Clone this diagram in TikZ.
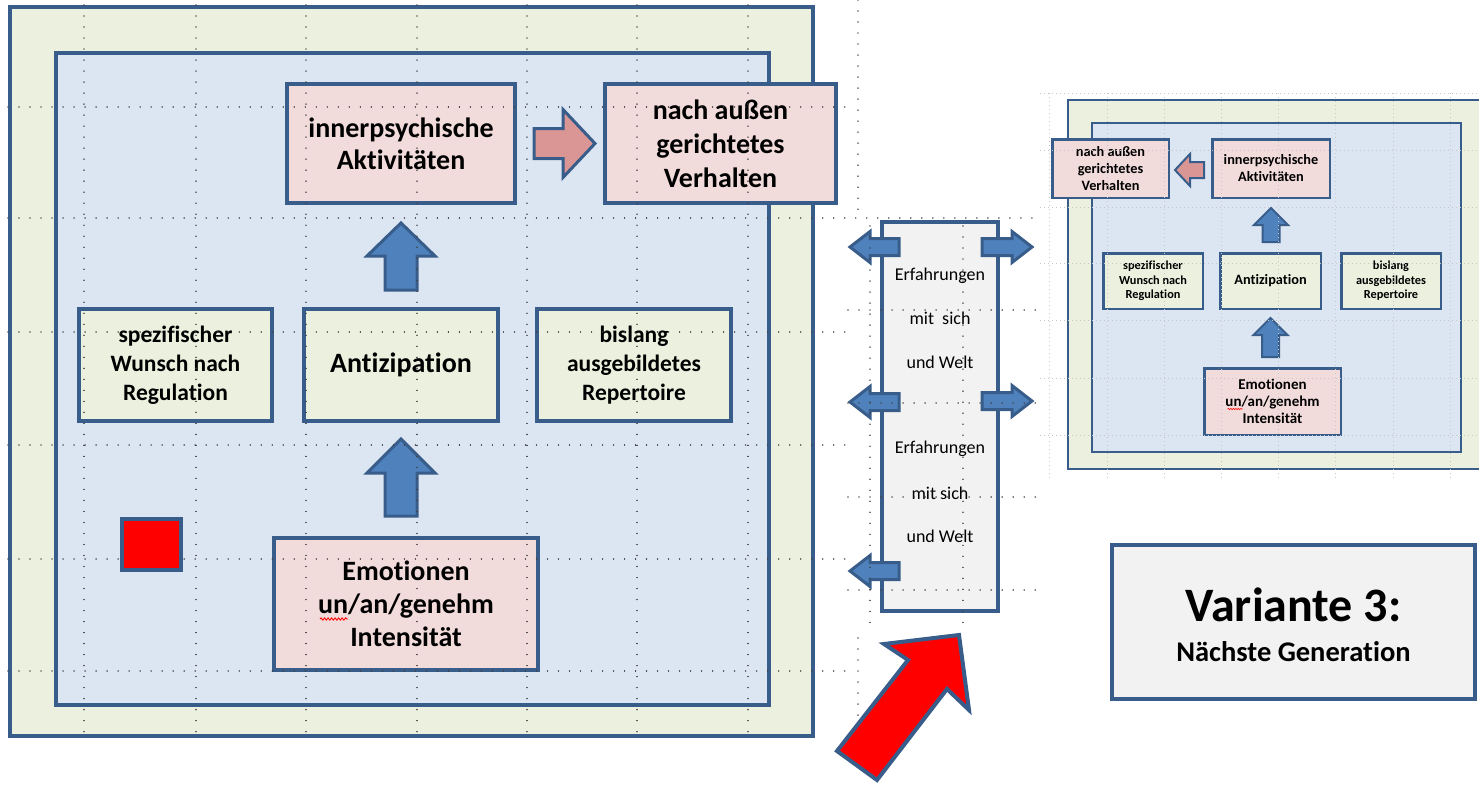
\documentclass[tikz,border=0pt]{standalone}
\usepackage{fontspec}
\setmainfont{Carlito}[Ligatures=NoCommon]
\usetikzlibrary{calc,decorations.pathmorphing}
\definecolor{edge}{HTML}{385D8A}
\definecolor{arrowblue}{HTML}{4F81BD}
\definecolor{greenfill}{HTML}{EBF1DE}
\definecolor{bluefill}{HTML}{DCE6F2}
\definecolor{pinkfill}{HTML}{F2DCDB}
\definecolor{greyfill}{HTML}{F2F2F2}
\definecolor{pinkarrow}{HTML}{D99694}
\newcommand\fsz[2]{\fontsize{#1}{#2}\selectfont}

% block arrows: length, head length, head half width, shaft half width
\tikzset{
  pics/uparr/.style n args={4}{code={%
    \path[pic actions] (0,0) -- (#3,#2) -- (#4,#2) -- (#4,#1) -- (-#4,#1) -- (-#4,#2) -- (-#3,#2) -- cycle;}},
  pics/larr/.style n args={4}{code={%
    \path[pic actions] (0,0) -- (#2,-#3) -- (#2,-#4) -- (#1,-#4) -- (#1,#4) -- (#2,#4) -- (#2,#3) -- cycle;}},
  pics/rarr/.style n args={4}{code={%
    \path[pic actions] (0,0) -- (-#2,-#3) -- (-#2,-#4) -- (-#1,-#4) -- (-#1,#4) -- (-#2,#4) -- (-#2,#3) -- cycle;}}
}

\begin{document}
\begin{tikzpicture}[x=1pt,y=-1pt,
  frame/.style={draw=edge,line width=4},
  thinframe/.style={draw=edge,line width=2.5},
  box/.style={frame,rectangle,inner sep=0pt,align=center,font=\bfseries\fsz{28}{33}},
  sbox/.style={thinframe,rectangle,inner sep=0pt,align=center,font=\bfseries\fsz{14.3}{17}},
  pinkbox/.style={fill=pinkfill},
  greenbox/.style={fill=greenfill},
  blockarrow/.style={fill=arrowblue,draw=edge,line width=3,line join=miter},
  sblockarrow/.style={fill=arrowblue,draw=edge,line width=2,line join=miter},
  pinkarrowstyle/.style={fill=pinkarrow,draw=edge,line width=3,line join=miter},
  sidetext/.style={font=\fsz{18}{21},inner sep=0pt},
  dotgrid/.style={draw=black!75,line width=1.4,line cap=round,dash pattern=on 0.01pt off 11pt},
  faintgrid/.style={draw=black!22,line width=1,dash pattern=on 1pt off 3pt},
  squiggle/.style={draw=red,line width=0.9,decorate,decoration={snake,amplitude=1.1pt,segment length=3.5pt}}
]
\clip (0,0) rectangle (1479,784);

% ---------- left model ----------
\draw[frame,fill=greenfill] (10,7) rectangle (813,736);
\draw[frame,fill=bluefill] (56,53) rectangle (769,705);

\node[box,pinkbox,minimum width=228,minimum height=119,font=\bfseries\fsz{28}{32}] (inner) at (401,143.5) {innerpsychische\\Aktivitäten};
\node[box,pinkbox,minimum width=231,minimum height=119,font=\bfseries\fsz{28}{34}] (aussen) at (720.5,143.5) {nach außen\\gerichtetes\\Verhalten};
\node[box,greenbox,minimum width=193,minimum height=112,font=\bfseries\fsz{23.5}{29}] (spez) at (175.5,365) {spezifischer\\Wunsch nach\\Regulation};
\node[box,greenbox,minimum width=194,minimum height=112] (anti) at (401,365) {Antizipation};
\node[box,greenbox,minimum width=194,minimum height=112,font=\bfseries\fsz{23.5}{29}] (bis) at (634,365) {bislang\\ausgebildetes\\Repertoire};
\node[box,pinkbox,minimum width=264,minimum height=132] (emo) at (406,604) {Emotionen\\un/an/genehm\\Intensität};
\draw[squiggle] ($(emo.center)+(-86,15)$) -- ($(emo.center)+(-58,15)$);

\pic[pinkarrowstyle] at ($(aussen.west)+(-8,0)$) {rarr={61}{32}{34}{15}};
\pic[blockarrow] at ($(inner.south)+(0,18)$) {uparr={67}{33}{34}{16}};
\pic[blockarrow] at ($(anti.south)+(0,16)$) {uparr={77}{34}{34}{16}};

% ---------- experience column ----------
\node[frame,fill=greyfill,minimum width=116,minimum height=389,inner sep=0pt] (exp) at (940,416.5) {};
\node[sidetext] (e1) at (940,276) {Erfahrungen};
\node[sidetext] (e2) at (940,318) {mit~~sich};
\node[sidetext] (e3) at (940,362) {und Welt};
\node[sidetext] (e4) at (940,449) {Erfahrungen};
\node[sidetext] (e5) at (940,493) {mit sich};
\node[sidetext] (e6) at (940,536) {und Welt};

\pic[blockarrow] at ($(exp.west)+(-30,-169.5)$) {larr={49}{20}{15.5}{8.5}};
\pic[blockarrow] at ($(exp.west)+(-30,-14.5)$) {larr={49}{20}{15.5}{8.5}};
\pic[blockarrow] at ($(exp.west)+(-30,154.5)$) {larr={49}{20}{15.5}{8.5}};
\pic[blockarrow] at ($(exp.east)+(32,-169.5)$) {rarr={50}{20}{15.5}{8.5}};
\pic[blockarrow] at ($(exp.east)+(32,-15.5)$) {rarr={50}{20}{15.5}{8.5}};

% ---------- next generation model ----------
\draw[thinframe,fill=greenfill] (1068,100) rectangle (1495,469);
\draw[thinframe,fill=bluefill] (1092,123) rectangle (1461,452);

\node[sbox,pinkbox,minimum width=116.5,minimum height=58.5] (saussen) at (1110.5,168.5) {nach außen\\gerichtetes\\Verhalten};
\node[sbox,pinkbox,minimum width=117.5,minimum height=58.5] (sinner) at (1271,168.5) {innerpsychische\\Aktivitäten};
\node[sbox,greenbox,minimum width=99.5,minimum height=55.5,font=\bfseries\fsz{12.3}{14.5}] (sspez) at (1153,281) {spezifischer\\Wunsch nach\\Regulation};
\node[sbox,greenbox,minimum width=100.5,minimum height=55.5] (santi) at (1270.5,281) {Antizipation};
\node[sbox,greenbox,minimum width=99.5,minimum height=55.5,font=\bfseries\fsz{12.3}{14.5}] (sbis) at (1391,281) {bislang\\ausgebildetes\\Repertoire};
\node[sbox,pinkbox,minimum width=136.5,minimum height=66.5,font=\bfseries\fsz{15}{17}] (semo) at (1272.5,401.5) {Emotionen\\un/an/genehm\\Intensität};
\draw[squiggle,line width=0.6,decoration={snake,amplitude=0.6pt,segment length=2.5pt}] ($(semo.center)+(-45,7.5)$) -- ($(semo.center)+(-30,7.5)$);

\pic[pinkarrowstyle,line width=2] at ($(saussen.east)+(5,1.5)$) {larr={29}{15}{16}{8}};
\pic[sblockarrow] at ($(sinner.south)+(0,9)$) {uparr={34}{17}{17}{8.5}};
\pic[sblockarrow] at ($(santi.south)+(0,8)$) {uparr={39}{17}{17}{8.5}};

% ---------- title box ----------
\node[frame,fill=greyfill,minimum width=363,minimum height=154,inner sep=0pt] (var) at (1293.5,622) {};
\node[anchor=base,font=\bfseries\fsz{48}{56},inner sep=0pt] (vt1) at ($(var.center)+(0,-1)$) {Variante 3:};
\node[anchor=base,font=\bfseries\fsz{28.5}{34},inner sep=0pt] (vt2) at ($(var.center)+(0,39)$) {Nächste Generation};

% ---------- guide grids ----------
\foreach \x in {84,196,306,417,527,637,748} \draw[dotgrid] (\x,5) -- (\x,738);
\foreach \y in {107,332,445,559,671} \draw[dotgrid] (8,\y) -- (848,\y);
\draw[dotgrid] (8,218) -- (1040,218);
\foreach \y in {310,403,497,590} \draw[dotgrid] (848,\y) -- (1040,\y);
\draw[dotgrid] (858,0) -- (858,212);
\draw[dotgrid] (870,226) -- (870,628);
\draw[dotgrid] (858,638) -- (858,720);
\draw[dotgrid] (963,226) -- (963,630);

\foreach \x in {1049,1107,1164,1221,1278,1335,1393,1450} \draw[faintgrid] (\x,93) -- (\x,478);
\foreach \y in {93,150,207,263,320,378,435} \draw[faintgrid] (1040,\y) -- (1479,\y);

% ---------- red markers ----------
\node[frame,fill=red,minimum width=59,minimum height=51,inner sep=0pt] (sq) at (151.5,544.5) {};
\draw[fill=red,draw=edge,line width=4,line join=miter]
  (959,635) -- (884,644) -- (908,660) -- (837,751) -- (877,780) -- (947,689) -- (969,710) -- cycle;
\end{tikzpicture}
\end{document}
